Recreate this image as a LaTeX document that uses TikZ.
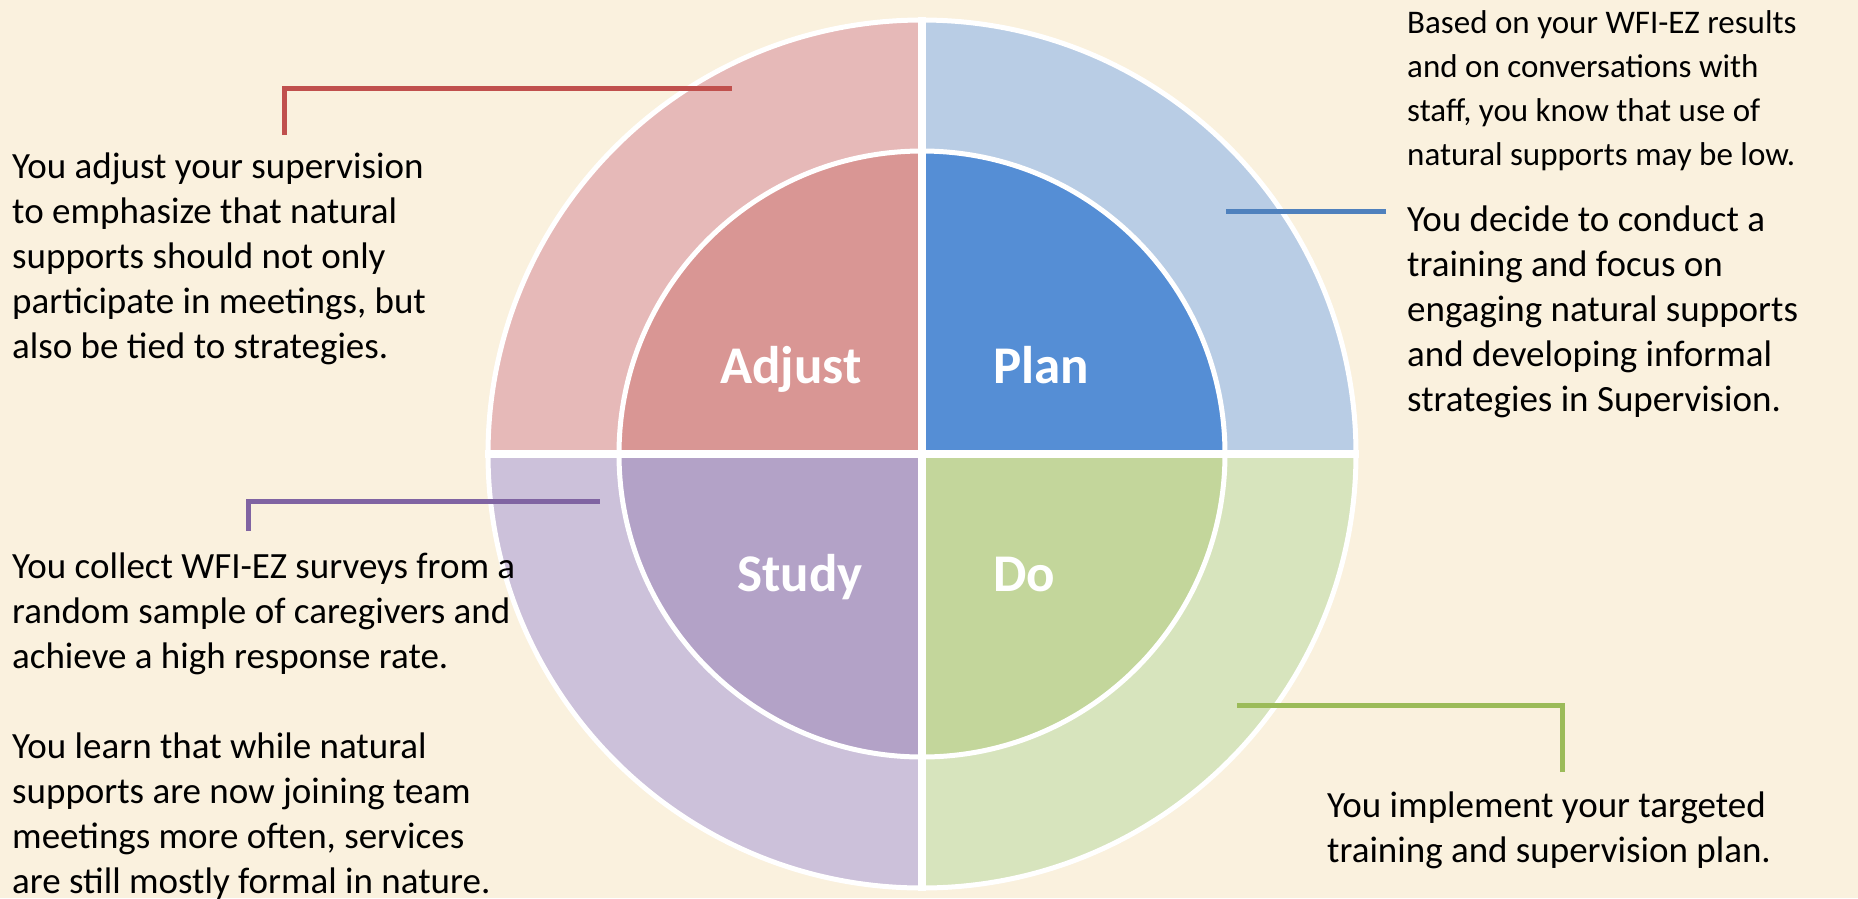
\documentclass[tikz,border=0pt]{standalone}
\usepackage{fontspec}
\setmainfont{Carlito}
\definecolor{bgcream}{HTML}{FAF1DE}
\definecolor{outadjust}{HTML}{E6B9B8}
\definecolor{inadjust}{HTML}{D99694}
\definecolor{outplan}{HTML}{B9CDE5}
\definecolor{inplan}{HTML}{558ED5}
\definecolor{outstudy}{HTML}{CCC1DA}
\definecolor{instudy}{HTML}{B3A2C7}
\definecolor{outdo}{HTML}{D7E4BD}
\definecolor{indo}{HTML}{C3D69B}
\definecolor{lineadjust}{HTML}{C0504D}
\definecolor{lineplan}{HTML}{4F81BD}
\definecolor{linestudy}{HTML}{8064A2}
\definecolor{linedo}{HTML}{9BBB59}
\tikzset{
	piece/.style={fill=#1,draw=white,line width=5pt},
	lead/.style={draw=#1,line width=5pt},
	phase/.style={text=white,inner sep=0pt,font={\fontsize{53}{60}\selectfont\bfseries}},
	note/.style={align=left,anchor=north west,inner sep=0pt,font={\fontsize{37}{45}\selectfont}},
}
\begin{document}
\begin{tikzpicture}[x=1pt,y=-1pt]
	\useasboundingbox (0,0) rectangle (1858,898);
	\fill[bgcream] (0,0) rectangle (1858,898);

	\begin{scope}[shift={(922,454)},yscale=-1]
		\foreach \a/\q in {0/plan,90/adjust,180/study,270/do}{
			\draw[piece=out\q] (0,0) -- (\a:434) arc[start angle=\a,delta angle=90,radius=434] -- cycle;
			\draw[piece=in\q] (0,0) -- (\a:303) arc[start angle=\a,delta angle=90,radius=303] -- cycle;
		}
		\draw[white,line width=8pt] (-437,0) -- (437,0);
		\draw[white,line width=8pt] (0,-437) -- (0,437);
	\end{scope}

	\node[phase,anchor=base east] (adjust) at (862,383) {Adjust};
	\node[phase,anchor=base west] (plan) at (993,383) {Plan};
	\node[phase,anchor=base east] (study) at (863,591) {Study};
	\node[phase,anchor=base west] (do) at (993,591) {Do};

	\node[note] (adjustnote) at (12,146.5) {\strut You adjust your supervision\\to emphasize that natural\\supports should not only\\participate in meetings, but\\also be tied to strategies.};
	\node[note,font={\fontsize{33}{44}\selectfont}] (plannote) at (1407,2.2) {\strut Based on your WFI-EZ results\\and on conversations with\\staff, you know that use of\\natural supports may be low.};
	\node[note] (decidenote) at (1407,199.5) {\strut You decide to conduct a\\training and focus on\\engaging natural supports\\and developing informal\\strategies in Supervision.};
	\node[note] (studynote) at (12,546.5) {\strut You collect WFI-EZ surveys from a\\random sample of caregivers and\\achieve a high response rate.\\[45pt]You learn that while natural\\supports are now joining team\\meetings more often, services\\are still mostly formal in nature.};
	\node[note] (donote) at (1327,785.5) {\strut You implement your targeted\\training and supervision plan.};

	\coordinate (adjustfoot) at (284,135);
	\coordinate (adjusttip) at (732,88);
	\coordinate (planfoot) at (1386,211);
	\coordinate (plantip) at (1226,211);
	\coordinate (studyfoot) at (248,531);
	\coordinate (studytip) at (600,501);
	\coordinate (dofoot) at (1562,772);
	\coordinate (dotip) at (1237,705);
	\draw[lead=lineadjust] (adjustfoot) |- (adjusttip);
	\draw[lead=lineplan] (planfoot) -- (plantip);
	\draw[lead=linestudy] (studyfoot) |- (studytip);
	\draw[lead=linedo] (dofoot) |- (dotip);
\end{tikzpicture}
\end{document}
